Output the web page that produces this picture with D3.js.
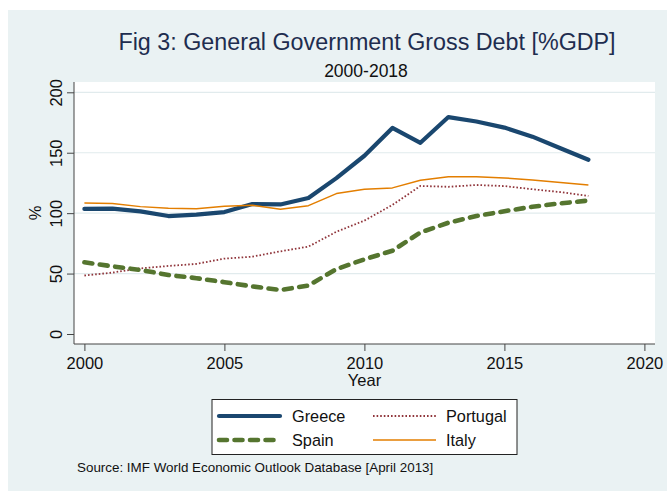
<!DOCTYPE html>
<html>
<head>
<meta charset="utf-8">
<script src="https://cdn.jsdelivr.net/npm/d3@7"></script>
<style>
  body { margin: 0; background: #fff; }
  text { font-family: "Liberation Sans", Arial, sans-serif; }
</style>
</head>
<body>
<div id="chart"></div>
<script>
// Data (IMF WEO, April 2013)
var years = d3.range(2000, 2019);
var greece   = [103.5, 103.7, 101.5, 97.6, 98.8, 100.9, 107.5, 107.2, 112.6, 129.0, 147.5, 170.5, 158.2, 179.5, 175.8, 170.8, 163.3, 153.7, 144.2];
var spain    = [59.3, 56.0, 53.0, 48.8, 46.2, 42.9, 39.4, 36.4, 40.1, 53.7, 61.8, 68.9, 84.0, 92.1, 97.6, 101.6, 105.3, 108.1, 110.4];
var portugal = [48.4, 50.8, 54.3, 56.3, 58.0, 62.4, 64.0, 68.4, 72.3, 84.6, 93.8, 106.8, 122.5, 121.8, 123.3, 122.4, 119.8, 117.4, 114.3];
var italy    = [108.3, 107.9, 105.4, 104.0, 103.7, 105.7, 106.5, 103.3, 106.2, 116.2, 119.7, 120.9, 127.2, 130.2, 130.2, 129.1, 127.5, 125.3, 123.3];
var xTicks = [2000, 2005, 2010, 2015, 2020];
var yTicks = [0, 50, 100, 150, 200];

var w = 667;
var h = 491;

// plot region box
var plot = { left: 74, right: 655, top: 82, bottom: 344 };

var xScale = d3.scaleLinear()
    .domain([2000, 2020])
    .range([84.4, 644.4]);

var yScale = d3.scaleLinear()
    .domain([0, 200])
    .range([334, 92.3]);

var svg = d3.select("#chart")
    .append("svg")
    .attr("width", w)
    .attr("height", h);

// graph region background (Stata s2color)
svg.append("rect")
    .attr("x", 8)
    .attr("y", 10)
    .attr("width", w - 8)
    .attr("height", h - 10)
    .attr("fill", "#eaf2f3");

svg.append("rect")
    .attr("x", plot.left)
    .attr("y", plot.top)
    .attr("width", plot.right - plot.left)
    .attr("height", plot.bottom - plot.top)
    .attr("fill", "#fff");

// horizontal gridlines
svg.selectAll("line.grid")
    .data(yTicks.filter(function(d) { return d > 0; }))
    .enter()
    .append("line")
    .attr("class", "grid")
    .attr("x1", plot.left)
    .attr("x2", plot.right)
    .attr("y1", function(d) { return yScale(d); })
    .attr("y2", function(d) { return yScale(d); })
    .attr("stroke", "#e1ebed")
    .attr("stroke-width", 1.2);

// titles
svg.append("text")
    .attr("x", 367)
    .attr("y", 50)
    .attr("text-anchor", "middle")
    .attr("font-size", "23.3px")
    .attr("fill", "#1e2d4f")
    .text("Fig 3: General Government Gross Debt [%GDP]");

svg.append("text")
    .attr("x", 366)
    .attr("y", 77)
    .attr("text-anchor", "middle")
    .attr("font-size", "17.5px")
    .attr("fill", "#111")
    .text("2000-2018");

// y axis
var yAxis = svg.append("g")
    .attr("transform", "translate(" + plot.left + ",0)")
    .call(d3.axisLeft(yScale).tickValues(yTicks).tickSize(7).tickSizeOuter(0));

yAxis.select(".domain")
    .attr("d", "M0," + plot.top + "V" + plot.bottom)
    .attr("stroke", "#444");

yAxis.selectAll(".tick line").attr("stroke", "#444");

yAxis.selectAll(".tick text")
    .attr("x", 0)
    .attr("y", -12)
    .attr("dy", 0)
    .attr("transform", "rotate(-90)")
    .attr("text-anchor", "middle")
    .attr("font-size", "16.5px")
    .attr("font-family", "Liberation Sans, Arial, sans-serif")
    .attr("fill", "#111");

// x axis
var xAxis = svg.append("g")
    .attr("transform", "translate(0," + plot.bottom + ")")
    .call(d3.axisBottom(xScale).tickValues(xTicks).tickFormat(d3.format("d")).tickSize(7).tickSizeOuter(0));

xAxis.select(".domain")
    .attr("d", "M" + plot.left + ",0H" + plot.right)
    .attr("stroke", "#444");

xAxis.selectAll(".tick line").attr("stroke", "#444");

xAxis.selectAll(".tick text")
    .attr("y", 25)
    .attr("dy", 0)
    .attr("font-size", "16.5px")
    .attr("font-family", "Liberation Sans, Arial, sans-serif")
    .attr("fill", "#111");

// axis titles
svg.append("text")
    .attr("transform", "translate(41," + ((plot.top + plot.bottom) / 2) + ") rotate(-90)")
    .attr("text-anchor", "middle")
    .attr("font-size", "16.5px")
    .attr("fill", "#111")
    .text("%");

svg.append("text")
    .attr("x", (plot.left + plot.right) / 2)
    .attr("y", 386)
    .attr("text-anchor", "middle")
    .attr("font-size", "16.5px")
    .attr("fill", "#111")
    .text("Year");

// series styles
var series = [
    { name: "Greece",   values: greece,   color: "#1a476f", width: 4.2, dash: null,    cap: "round" },
    { name: "Portugal", values: portugal, color: "#90353b", width: 1.8, dash: "1.6,2", cap: "butt" },
    { name: "Spain",    values: spain,    color: "#55752f", width: 4.6, dash: "8,7.5", cap: "round" },
    { name: "Italy",    values: italy,    color: "#e37e00", width: 1.5, dash: null,    cap: "butt" }
];

var line = d3.line()
    .x(function(d, i) { return xScale(years[i]); })
    .y(function(d) { return yScale(d); });

// draw in Stata order, first series on the bottom
svg.selectAll("path.series")
    .data(series)
    .enter()
    .append("path")
    .attr("class", "series")
    .attr("d", function(d) { return line(d.values); })
    .attr("fill", "none")
    .attr("stroke", function(d) { return d.color; })
    .attr("stroke-width", function(d) { return d.width; })
    .attr("stroke-dasharray", function(d) { return d.dash; })
    .attr("stroke-linecap", function(d) { return d.cap; })
    .attr("stroke-linejoin", "round");

// legend
var legend = svg.append("g");

legend.append("rect")
    .attr("x", 212)
    .attr("y", 399.5)
    .attr("width", 305)
    .attr("height", 55)
    .attr("fill", "#fff")
    .attr("stroke", "#222")
    .attr("stroke-width", 1);

var legendPos = [
    { x: 217, y: 416 },
    { x: 373, y: 416 },
    { x: 217, y: 440 },
    { x: 373, y: 440 }
];

series.forEach(function(s, i) {
    var p = legendPos[i];
    var len = i % 2 === 0 ? 65 : 63;
    legend.append("line")
        .attr("x1", p.x + (s.cap === "round" ? 2 : 0))
        .attr("x2", p.x + len - (s.cap === "round" ? 2 : 0))
        .attr("y1", p.y)
        .attr("y2", p.y)
        .attr("stroke", s.color)
        .attr("stroke-width", s.width)
        .attr("stroke-dasharray", s.dash)
        .attr("stroke-linecap", s.cap);
    legend.append("text")
        .attr("x", p.x + len + 10)
        .attr("y", p.y + 6)
        .attr("font-size", "16.3px")
        .attr("fill", "#111")
        .text(s.name);
});

// source note
svg.append("text")
    .attr("x", 77)
    .attr("y", 472)
    .attr("font-size", "13.4px")
    .attr("fill", "#111")
    .text("Source: IMF World Economic Outlook Database [April 2013]");
</script>
</body>
</html>
